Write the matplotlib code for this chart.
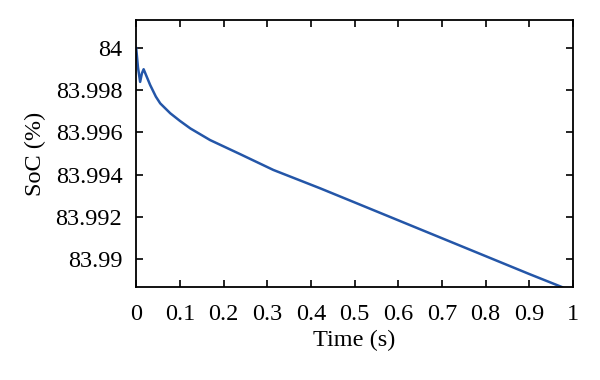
import matplotlib
matplotlib.use("Agg")
import matplotlib.pyplot as plt

# SoC trace (time in s, SoC in %)
time_s = [0, 0.004, 0.009, 0.013, 0.017, 0.032, 0.045, 0.055, 0.078, 0.10,
          0.124, 0.169, 0.238, 0.314, 0.421, 0.5, 0.6, 0.7, 0.8, 0.9, 0.975]
soc = [84.0, 83.9991, 83.9984, 83.9988, 83.9990, 83.99825, 83.9977, 83.99738,
       83.99691, 83.99655, 83.99619, 83.99564, 83.99497, 83.99422, 83.99335,
       83.99268, 83.99183, 83.99098, 83.99013, 83.98928, 83.98866]

xticks = [0, 0.1, 0.2, 0.3, 0.4, 0.5, 0.6, 0.7, 0.8, 0.9, 1]
xlabels = ["0", "0.1", "0.2", "0.3", "0.4", "0.5", "0.6", "0.7", "0.8", "0.9", "1"]
yticks = [83.99, 83.992, 83.994, 83.996, 83.998, 84]
ylabels = ["83.99", "83.992", "83.994", "83.996", "83.998", "84"]

plt.rcParams["font.family"] = ["Liberation Serif", "DejaVu Serif"]
plt.rcParams["font.size"] = 17.5

fig = plt.figure(figsize=(6, 3.8), dpi=100)
ax = fig.add_axes([0.227, 0.245, 0.728, 0.702])
ax.plot(time_s, soc, color="#2456a8", linewidth=1.8)

ax.set_xlim(0, 1)
ax.set_ylim(83.98867, 84.00133)
ax.set_xticks(xticks)
ax.set_xticklabels(xlabels)
ax.set_yticks(yticks)
ax.set_yticklabels(ylabels)
ax.tick_params(direction="in", length=5, width=1.2, top=True, right=True)
ax.tick_params(axis="x", pad=12)
ax.tick_params(axis="y", pad=10)
for s in ax.spines.values():
    s.set_linewidth(1.3)

ax.set_xlabel("Time (s)", labelpad=4)
ax.set_ylabel("SoC (%)", labelpad=7)

fig.savefig("out.png", dpi=100)
